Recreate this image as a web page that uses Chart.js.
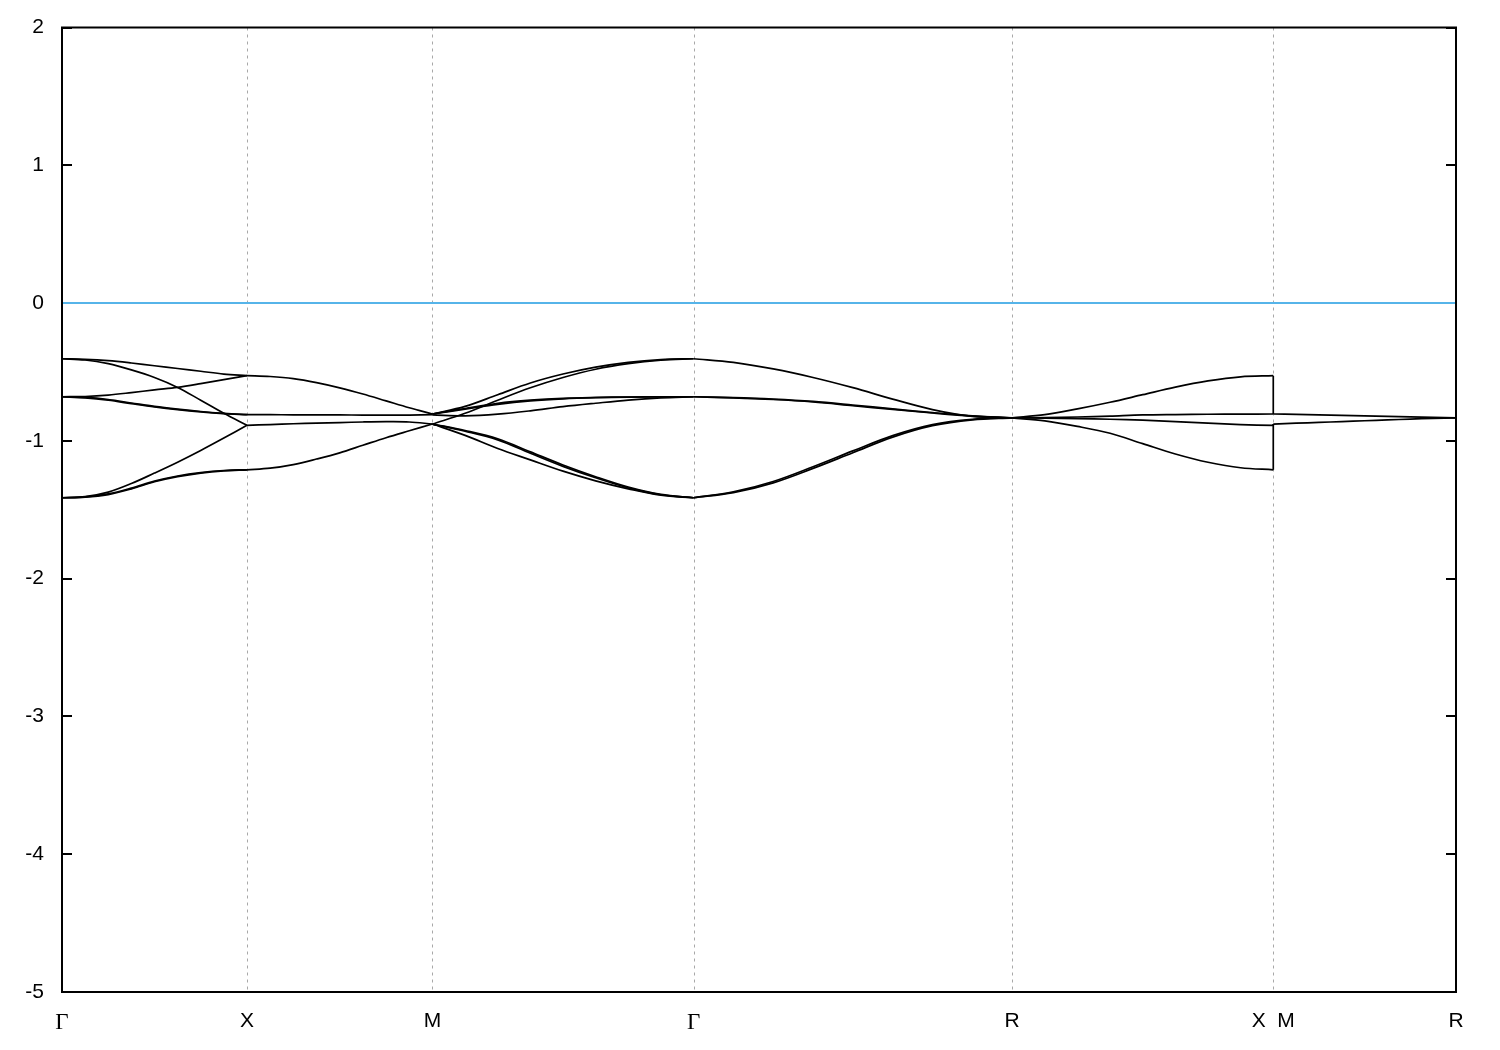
<!DOCTYPE html>
<html>
<head>
<meta charset="utf-8">
<script src="https://cdn.jsdelivr.net/npm/chart.js@4.4.0/dist/chart.umd.min.js"></script>
<style>
  html, body { margin: 0; padding: 0; background: #ffffff; }
  #c { display: block; }
</style>
</head>
<body>
<canvas id="c" width="1500" height="1050"></canvas>
<script>
// ---- k-path (high-symmetry points, cumulative path length) ----
const kNodes = [0, 1.003, 2.009, 3.425, 5.153, 6.569, 7.560];
const tickLabels = ['Γ', 'X', 'M', 'Γ', 'R', 'X  M', 'R'];
const yTicks = [2, 1, 0, -1, -2, -3, -4, -5];
const fermiLevel = 0;
// fractions along each segment at which energies were read
const tFrac = [0, 0.125, 0.25, 0.375, 0.5, 0.625, 0.75, 0.875, 1];

// ---- band energies per segment (eV) ----
// Γ -> X
const bandsGX = [
  [-0.404, -0.408, -0.418, -0.435, -0.455, -0.475, -0.495, -0.515, -0.527],
  [-0.404, -0.413, -0.440, -0.485, -0.540, -0.612, -0.705, -0.800, -0.887],
  [-0.680, -0.678, -0.668, -0.650, -0.630, -0.612, -0.585, -0.555, -0.527],
  [-0.680, -0.685, -0.700, -0.725, -0.750, -0.770, -0.787, -0.800, -0.810],
  [-0.680, -0.688, -0.705, -0.730, -0.754, -0.774, -0.790, -0.802, -0.810],
  [-1.413, -1.405, -1.372, -1.310, -1.234, -1.155, -1.070, -0.980, -0.887],
  [-1.413, -1.407, -1.385, -1.343, -1.292, -1.255, -1.230, -1.215, -1.210],
  [-1.413, -1.409, -1.390, -1.349, -1.297, -1.260, -1.234, -1.218, -1.210]
];
// X -> M
const bandsXM = [
  [-0.527, -0.533, -0.548, -0.577, -0.615, -0.660, -0.710, -0.760, -0.805],
  [-0.810, -0.810, -0.811, -0.812, -0.812, -0.813, -0.813, -0.813, -0.810],
  [-0.887, -0.882, -0.876, -0.871, -0.867, -0.863, -0.861, -0.863, -0.878],
  [-1.210, -1.198, -1.172, -1.132, -1.087, -1.032, -0.977, -0.927, -0.878]
];
// M -> Γ
const bandsMG = [
  [-0.805, -0.750, -0.665, -0.580, -0.515, -0.465, -0.430, -0.410, -0.404],
  [-0.878, -0.800, -0.705, -0.615, -0.540, -0.480, -0.440, -0.415, -0.404],
  [-0.805, -0.770, -0.735, -0.710, -0.695, -0.687, -0.683, -0.681, -0.680],
  [-0.805, -0.765, -0.728, -0.705, -0.691, -0.685, -0.682, -0.680, -0.680],
  [-0.812, -0.818, -0.806, -0.782, -0.752, -0.727, -0.704, -0.688, -0.680],
  [-0.878, -0.960, -1.055, -1.138, -1.220, -1.290, -1.348, -1.395, -1.413],
  [-0.878, -0.925, -0.985, -1.080, -1.175, -1.260, -1.335, -1.388, -1.413],
  [-0.878, -0.930, -0.993, -1.090, -1.185, -1.268, -1.341, -1.391, -1.413]
];
// Γ -> R
const bandsGR = [
  [-0.404, -0.430, -0.478, -0.540, -0.614, -0.697, -0.773, -0.823, -0.833],
  [-0.680, -0.688, -0.700, -0.718, -0.745, -0.772, -0.798, -0.820, -0.833],
  [-0.680, -0.686, -0.697, -0.714, -0.740, -0.768, -0.795, -0.818, -0.833],
  [-1.413, -1.376, -1.305, -1.200, -1.086, -0.973, -0.890, -0.848, -0.833],
  [-1.413, -1.370, -1.295, -1.188, -1.073, -0.962, -0.882, -0.844, -0.833]
];
// R -> X
const bandsRX = [
  [-0.833, -0.810, -0.768, -0.720, -0.665, -0.610, -0.565, -0.535, -0.527],
  [-0.833, -0.831, -0.827, -0.820, -0.812, -0.809, -0.807, -0.806, -0.805],
  [-0.833, -0.835, -0.838, -0.843, -0.850, -0.860, -0.872, -0.882, -0.888],
  [-0.833, -0.855, -0.895, -0.945, -1.020, -1.095, -1.155, -1.195, -1.210]
];
// M -> R
const bandsMR = [
  [-0.805, -0.808, -0.812, -0.815, -0.819, -0.822, -0.826, -0.830, -0.833],
  [-0.878, -0.872, -0.866, -0.860, -0.854, -0.848, -0.842, -0.837, -0.833]
];
// which M->R band each R->X band continues into across the X|M break
const rxToMr = [0, 0, 1, 1];

// ---- build datasets ----
const segments = [bandsGX, bandsXM, bandsMG, bandsGR, bandsRX, bandsMR];
const lineStyle = {
  borderColor: '#000000', borderWidth: 1.7, pointRadius: 0, fill: false,
  tension: 0.35
};
const datasets = [];
segments.forEach((bands, s) => {
  const k0 = kNodes[s], k1 = kNodes[s + 1];
  bands.forEach(vals => {
    datasets.push(Object.assign({
      data: vals.map((e, j) => ({ x: k0 + tFrac[j] * (k1 - k0), y: e }))
    }, lineStyle));
  });
});
// vertical connections at the X|M discontinuity
bandsRX.forEach((vals, i) => {
  datasets.push(Object.assign({}, lineStyle, {
    tension: 0,
    data: [{ x: kNodes[5], y: vals[vals.length - 1] }, { x: kNodes[5], y: bandsMR[rxToMr[i]][0] }]
  }));
});
// Fermi level
datasets.push({
  data: [{ x: kNodes[0], y: fermiLevel }, { x: kNodes[kNodes.length - 1], y: fermiLevel }],
  borderColor: '#56b4e9', borderWidth: 2, pointRadius: 0, fill: false, tension: 0
});

// ---- dotted k-grid, inward y tics and frame ----
const framePlugin = {
  id: 'frame',
  beforeDatasetsDraw(chart) {
    const { ctx, chartArea: a, scales: { x, y } } = chart;
    ctx.save();
    ctx.strokeStyle = '#a8a8a8';
    ctx.lineWidth = 1;
    ctx.setLineDash([3, 4]);
    x.ticks.forEach(t => {
      const px = Math.round(x.getPixelForValue(t.value)) + 0.5;
      if (px > a.left + 2 && px < a.right - 2) {
        ctx.beginPath(); ctx.moveTo(px, a.top); ctx.lineTo(px, a.bottom); ctx.stroke();
      }
    });
    ctx.strokeStyle = '#000000';
    ctx.lineWidth = 2;
    ctx.setLineDash([]);
    y.ticks.forEach(t => {
      const py = Math.round(y.getPixelForValue(t.value));
      ctx.beginPath();
      ctx.moveTo(a.left, py); ctx.lineTo(a.left + 10, py);
      ctx.moveTo(a.right, py); ctx.lineTo(a.right - 10, py);
      ctx.stroke();
    });
    ctx.restore();
  },
  afterDatasetsDraw(chart) {
    const { ctx, chartArea: a } = chart;
    ctx.save();
    ctx.strokeStyle = '#000000';
    ctx.lineWidth = 2;
    ctx.strokeRect(a.left, a.top, a.right - a.left, a.bottom - a.top);
    ctx.restore();
  }
};

new Chart(document.getElementById('c'), {
  type: 'line',
  data: { datasets },
  plugins: [framePlugin],
  options: {
    responsive: false,
    animation: false,
    devicePixelRatio: 1,
    layout: { padding: { top: 27.5, right: 44, bottom: 0, left: 0 } },
    plugins: { legend: { display: false }, tooltip: { enabled: false } },
    scales: {
      x: {
        type: 'linear',
        min: kNodes[0],
        max: kNodes[kNodes.length - 1],
        grid: { display: false },
        border: { display: false },
        afterBuildTicks: s => { s.ticks = kNodes.map(v => ({ value: v })); },
        afterFit: s => { s.height = 58; },
        ticks: {
          autoSkip: false,
          maxRotation: 0,
          padding: 9,
          color: '#000000',
          callback: (v, i) => tickLabels[i],
          font: ctx => (ctx.tick && ctx.index !== undefined && tickLabels[ctx.index] === 'Γ')
            ? { family: 'Liberation Serif', size: 23 }
            : { family: 'Liberation Sans', size: 21 }
        }
      },
      y: {
        type: 'linear',
        min: yTicks[yTicks.length - 1],
        max: yTicks[0],
        grid: { display: false },
        border: { display: false },
        afterBuildTicks: s => { s.ticks = yTicks.map(v => ({ value: v })); },
        afterFit: s => { s.width = 62; },
        ticks: {
          padding: 10,
          color: '#000000',
          font: { family: 'Liberation Sans', size: 21 }
        }
      }
    }
  }
});
</script>
</body>
</html>
